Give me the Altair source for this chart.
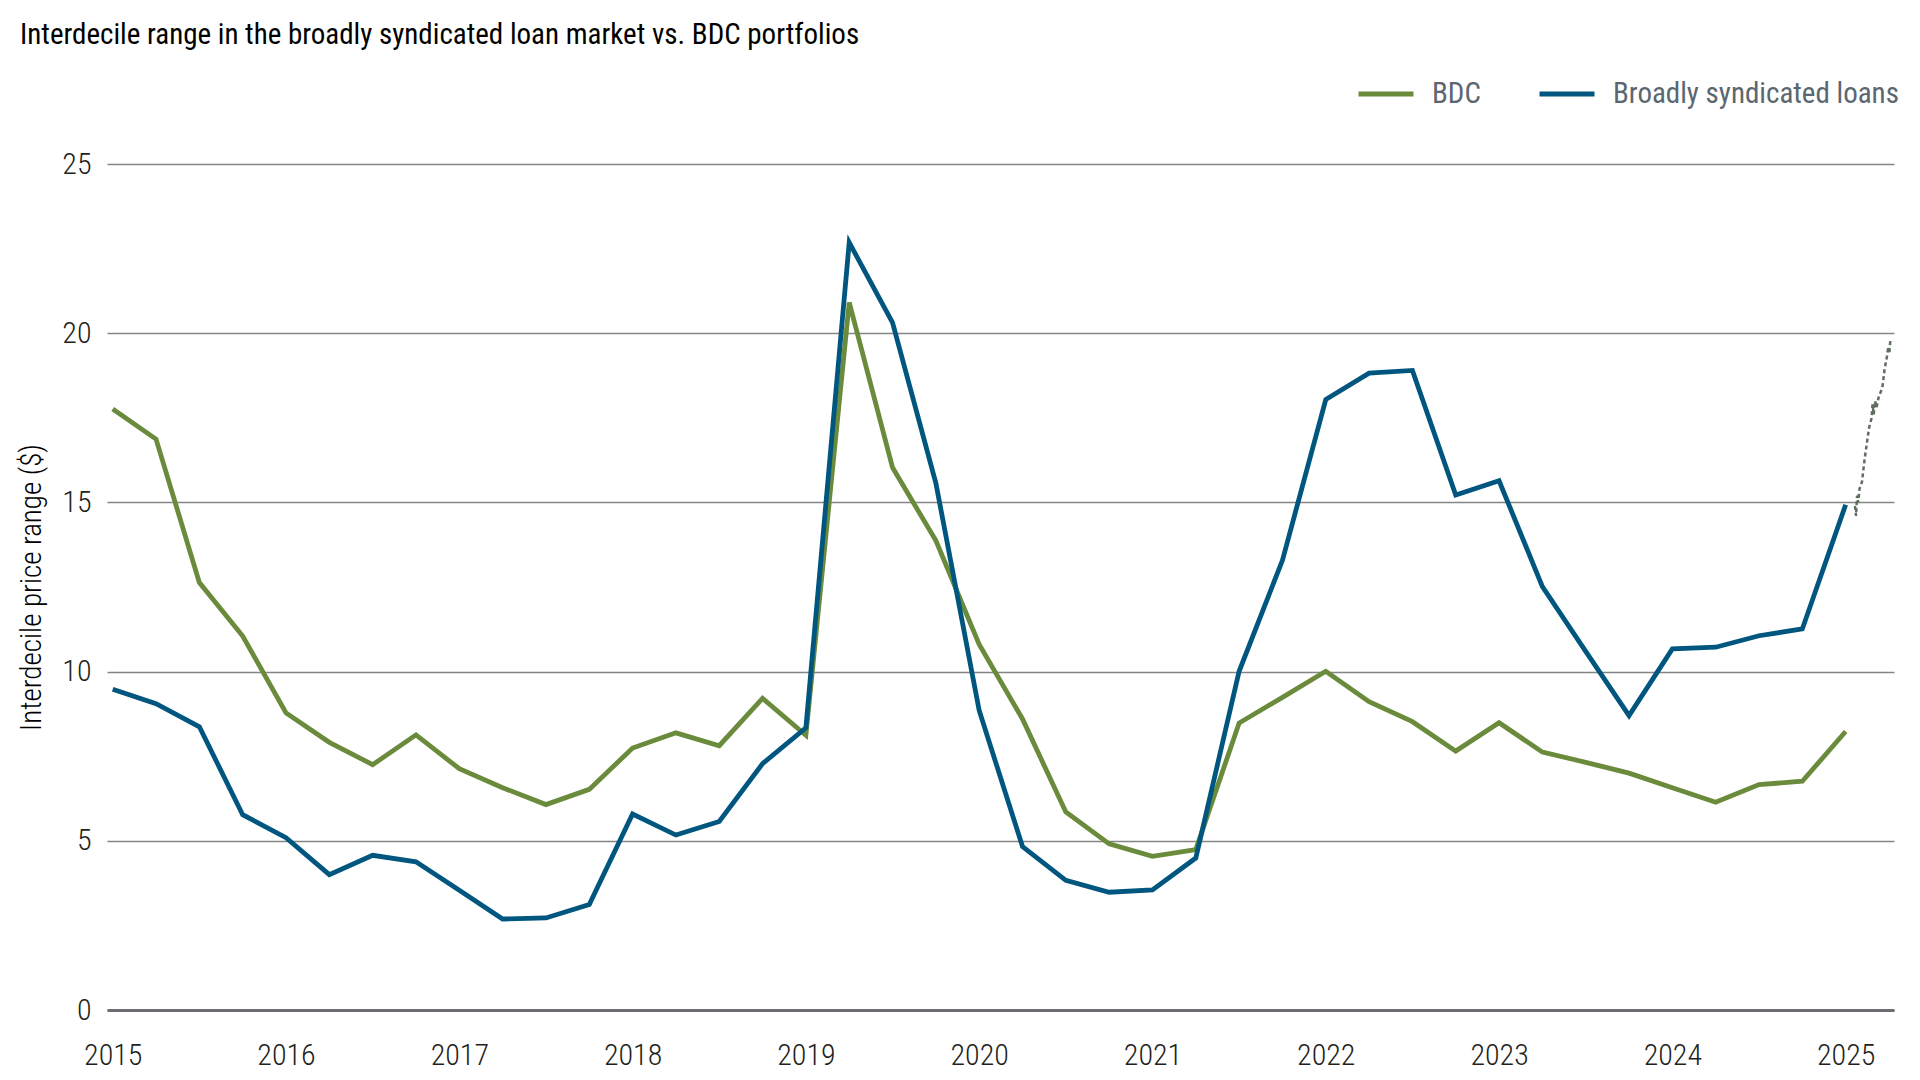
import altair as alt
import pandas as pd

FONT = "Roboto Condensed, Liberation Sans Narrow, Arial Narrow, sans-serif"

# quarterly observations, 2015 Q1 .. 2025 Q1
quarters = [2015 + q / 4 for q in range(41)]

bdc = [17.76, 16.87, 12.63, 11.05, 8.78, 7.91, 7.25, 8.13, 7.13, 6.57,
       6.07, 6.52, 7.74, 8.19, 7.81, 9.21, 8.12, 20.91, 16.03, 13.87,
       10.80, 8.60, 5.85, 4.91, 4.54, 4.74, 8.48, 9.24, 10.01, 9.11,
       8.52, 7.65, 8.49, 7.62, 7.32, 7.00, 6.57, 6.14, 6.66, 6.76, 8.23]

bsl = [9.48, 9.05, 8.37, 5.77, 5.09, 4.00, 4.57, 4.38, 3.54, 2.69,
       2.72, 3.12, 5.79, 5.17, 5.57, 7.28, 8.34, 22.68, 20.31, 15.57,
       8.85, 4.83, 3.83, 3.48, 3.55, 4.49, 10.01, 13.29, 18.04, 18.82,
       18.90, 15.22, 15.64, 12.51, 10.60, 8.70, 10.67, 10.72, 11.06, 11.26, 14.93]

# daily BSL readings, early 2025 (dashed)
bsl_2025_x = [2025.054, 2025.060, 2025.066, 2025.072, 2025.080, 2025.094, 2025.110,
              2025.135, 2025.150, 2025.155, 2025.162, 2025.170, 2025.178, 2025.190,
              2025.212, 2025.225, 2025.238, 2025.246, 2025.252, 2025.258, 2025.262]
bsl_2025 = [14.9, 14.6, 15.2, 15.0, 15.4, 15.6, 16.3,
            17.2, 17.5, 17.9, 17.6, 18.0, 17.8, 18.1,
            18.4, 18.95, 19.3, 19.6, 19.4, 19.8, 19.75]

series_names = ["BDC", "Broadly syndicated loans"]
series_colors = ["#6a8a3c", "#00567f"]
years = [2015, 2016, 2017, 2018, 2019, 2020, 2021, 2022, 2023, 2024, 2025]
y_ticks = [0, 5, 10, 15, 20, 25]

df = pd.concat([
    pd.DataFrame({"date": quarters, "value": bdc, "series": "BDC"}),
    pd.DataFrame({"date": quarters, "value": bsl, "series": "Broadly syndicated loans"}),
])
df_daily = pd.DataFrame({"date": bsl_2025_x, "value": bsl_2025})

x_enc = alt.X(
    "date:Q",
    scale=alt.Scale(domain=[2014.967, 2025.279], nice=False, zero=False),
    axis=alt.Axis(
        values=years, format="d", title=None,
        labelFont=FONT, labelFontSize=30, labelFontWeight=300, labelColor="#231f20",
        labelPadding=30, ticks=False, tickSize=0, grid=False,
        domain=True, domainColor="#6d6e71", domainWidth=3,
        labelOverlap=False,
    ),
)
y_enc = alt.Y(
    "value:Q",
    scale=alt.Scale(domain=[0, 25], nice=False),
    axis=alt.Axis(
        values=y_ticks, title="Interdecile price range ($)",
        labelFont=FONT, labelFontSize=30, labelFontWeight=300, labelColor="#231f20",
        labelPadding=16,
        titleFont=FONT, titleFontSize=29, titleFontWeight=300, titleColor="#000000",
        titleX=-76, titleY=423, titleAlign="center", titleBaseline="middle", titleAngle=270,
        ticks=False, domain=False, grid=True, gridColor="#858585", gridWidth=1.5,
    ),
)

lines = alt.Chart(df).mark_line(strokeWidth=4.8).encode(
    x=x_enc,
    y=y_enc,
    color=alt.Color(
        "series:N",
        scale=alt.Scale(domain=series_names, range=series_colors),
        legend=alt.Legend(
            title=None, orient="none", legendX=1249, legendY=-100,
            direction="horizontal", columns=2,
            symbolType="stroke", symbolSize=3025, symbolStrokeWidth=5,
            labelFont=FONT, labelFontSize=29, labelColor="#5b6670", labelLimit=0,
            labelOffset=16, columnPadding=48, padding=0,
        ),
    ),
)

dashed = alt.Chart(df_daily).mark_line(
    strokeWidth=2.5, strokeDash=[4, 3], color="#5f6e5f"
).encode(x=x_enc, y=y_enc)

chart = alt.layer(lines, dashed).properties(
    width=1787,
    height=846,
    title=alt.TitleParams(
        text="Interdecile range in the broadly syndicated loan market vs. BDC portfolios",
        anchor="start", frame="bounds", font=FONT, fontSize=29,
        fontWeight="normal", color="#000000", offset=14, dx=3,
    ),
    autosize=alt.AutoSizeParams(type="none"),
    padding={"left": 99, "top": 156, "right": 18, "bottom": 60},
).configure_view(stroke=None)

chart.save("out.html", embed_options={"renderer": "svg", "actions": False})
